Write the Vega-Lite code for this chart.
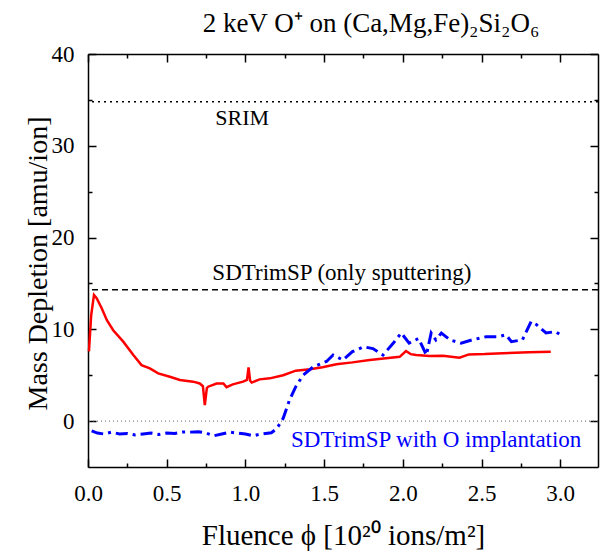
{
  "$schema": "https://vega.github.io/schema/vega-lite/v6.json",
  "width": 510,
  "height": 413,
  "autosize": {"type": "none"},
  "padding": {"left": 88, "top": 54, "right": 2, "bottom": 85},
  "config": {
    "view": {"stroke": null},
    "font": "Liberation Serif",
    "axis": {
      "domainColor": "black", "domainWidth": 1.5, "tickColor": "black", "tickWidth": 1.5, "ticks": true,
      "labelFont": "Liberation Serif", "labelFontSize": 23, "labelColor": "black",
      "titleFont": "Liberation Serif", "titleFontSize": 29, "titleFontWeight": "normal", "titleColor": "black",
      "grid": false, "labelOverlap": false, "labelFlush": false
    }
  },
  "title": {
    "text": "2 keV O⁺ on (Ca,Mg,Fe)₂Si₂O₆",
    "font": "Liberation Serif", "fontSize": 27, "fontWeight": "normal", "color": "black",
    "anchor": "middle", "dx": 28, "baseline": "alphabetic", "offset": -16
  },
  "datasets": {
    "red": [
      {"x":0.006,"y":7.6},{"x":0.02,"y":11.5},{"x":0.038,"y":13.75},{"x":0.055,"y":13.4},{"x":0.087,"y":12.3},{"x":0.12,"y":11.0},{"x":0.16,"y":9.9},{"x":0.224,"y":8.66},{"x":0.288,"y":7.2},{"x":0.34,"y":6.1},{"x":0.393,"y":5.75},{"x":0.446,"y":5.2},{"x":0.52,"y":4.84},{"x":0.584,"y":4.48},{"x":0.668,"y":4.3},{"x":0.71,"y":4.1},{"x":0.73,"y":3.8},{"x":0.742,"y":1.75},{"x":0.755,"y":3.6},{"x":0.763,"y":3.75},{"x":0.817,"y":4.1},{"x":0.86,"y":4.1},{"x":0.88,"y":3.7},{"x":0.92,"y":4.0},{"x":0.985,"y":4.3},{"x":1.01,"y":4.5},{"x":1.02,"y":5.85},{"x":1.03,"y":4.4},{"x":1.04,"y":4.2},{"x":1.09,"y":4.55},{"x":1.155,"y":4.66},{"x":1.24,"y":5.0},{"x":1.32,"y":5.5},{"x":1.41,"y":5.65},{"x":1.49,"y":5.86},{"x":1.578,"y":6.2},{"x":1.68,"y":6.4},{"x":1.79,"y":6.66},{"x":1.98,"y":7.0},{"x":2.02,"y":7.64},{"x":2.05,"y":7.3},{"x":2.085,"y":7.2},{"x":2.17,"y":7.1},{"x":2.255,"y":7.13},{"x":2.36,"y":6.9},{"x":2.42,"y":7.27},{"x":2.52,"y":7.3},{"x":2.635,"y":7.4},{"x":2.8,"y":7.5},{"x":2.94,"y":7.57}
    ],
    "blue": [
      {"x":0.023,"y":-1.06},{"x":0.06,"y":-1.3},{"x":0.1,"y":-1.4},{"x":0.15,"y":-1.2},{"x":0.2,"y":-1.4},{"x":0.25,"y":-1.35},{"x":0.3,"y":-1.5},{"x":0.35,"y":-1.4},{"x":0.4,"y":-1.3},{"x":0.45,"y":-1.45},{"x":0.5,"y":-1.3},{"x":0.55,"y":-1.35},{"x":0.6,"y":-1.2},{"x":0.65,"y":-1.2},{"x":0.7,"y":-1.15},{"x":0.75,"y":-1.3},{"x":0.8,"y":-1.6},{"x":0.85,"y":-1.4},{"x":0.9,"y":-1.2},{"x":0.95,"y":-1.3},{"x":1.0,"y":-1.4},{"x":1.05,"y":-1.6},{"x":1.1,"y":-1.4},{"x":1.165,"y":-1.27},{"x":1.2,"y":-0.8},{"x":1.24,"y":0.3},{"x":1.28,"y":2.3},{"x":1.32,"y":3.75},{"x":1.366,"y":5.0},{"x":1.43,"y":5.9},{"x":1.515,"y":6.5},{"x":1.557,"y":7.2},{"x":1.62,"y":6.66},{"x":1.68,"y":7.57},{"x":1.75,"y":8.1},{"x":1.81,"y":7.9},{"x":1.874,"y":7.2},{"x":1.94,"y":8.5},{"x":1.99,"y":9.6},{"x":2.04,"y":8.5},{"x":2.1,"y":9.0},{"x":2.15,"y":7.2},{"x":2.18,"y":9.6},{"x":2.21,"y":8.85},{"x":2.245,"y":9.6},{"x":2.3,"y":8.85},{"x":2.37,"y":8.5},{"x":2.44,"y":8.85},{"x":2.53,"y":9.2},{"x":2.61,"y":9.2},{"x":2.655,"y":9.4},{"x":2.69,"y":8.66},{"x":2.76,"y":8.85},{"x":2.815,"y":10.85},{"x":2.85,"y":10.5},{"x":2.91,"y":9.6},{"x":2.97,"y":9.75},{"x":3.02,"y":9.2}
    ],
    "refs": [
      {"name":"SRIM","y":34.8},
      {"name":"SDTrimSP","y":14.3},
      {"name":"zero","y":0}
    ],
    "labels": [
      {"text":"SRIM","x":0.98,"y":32.3,"col":"black","pos":"center"},
      {"text":"SDTrimSP (only sputtering)","x":0.79,"y":15.4,"col":"black","pos":"left"},
      {"text":"SDTrimSP with O implantation","x":1.29,"y":-2.84,"col":"#0000ff","pos":"left"}
    ]
  },
  "layer": [
    {
      "data": {"name": "red"},
      "mark": {"type": "line", "color": "#ff0000", "strokeWidth": 2.5},
      "encoding": {
        "x": {
          "field": "x", "type": "quantitative",
          "scale": {"domain": [0, 3.24], "nice": false, "zero": false},
          "axis": {
            "orient": "bottom",
            "title": "Fluence ϕ [10²⁰ ions/m²]",
            "values": [0,0.5,1,1.5,2,2.5,3],
            "tickSize": -8,
            "format": ".1f",
            "labelBaseline": "alphabetic", "labelPadding": 41,
            "titleFontSize": 29,
            "titleBaseline": "alphabetic", "titleY": 77, "titleX": 255
          }
        },
        "y": {
          "field": "y", "type": "quantitative",
          "scale": {"domain": [-5, 40], "nice": false, "zero": false},
          "axis": {
            "orient": "left",
            "title": "Mass Depletion [amu/ion]",
            "values": [0,10,20,30,40],
            "tickSize": -8,
            "labelPadding": 22,
            "titleFontSize": 28,
            "titleBaseline": "alphabetic", "titleX": -42, "titleY": 209
          }
        }
      }
    },
    {
      "data": {"name": "blue"},
      "mark": {"type": "line", "color": "#0000ff", "strokeWidth": 3, "strokeDash": [12, 5, 3, 5]},
      "encoding": {
        "x": {
          "field": "x", "type": "quantitative",
          "axis": {"orient": "top", "title": null, "labels": false, "values": [0,0.5,1,1.5,2,2.5,3], "tickSize": -8}
        },
        "y": {
          "field": "y", "type": "quantitative",
          "axis": {"orient": "right", "title": null, "labels": false, "values": [0,10,20,30,40], "tickSize": -8}
        }
      }
    },
    {
      "data": {"name": "refs"},
      "transform": [{"filter": "datum.name==='SRIM'"}],
      "mark": {"type": "rule", "color": "black", "strokeWidth": 1.5, "strokeDash": [2, 4]},
      "encoding": {"y": {"field": "y", "type": "quantitative", "axis": null}}
    },
    {
      "data": {"name": "refs"},
      "transform": [{"filter": "datum.name==='SDTrimSP'"}],
      "mark": {"type": "rule", "color": "black", "strokeWidth": 1.5, "strokeDash": [6, 4]},
      "encoding": {"y": {"field": "y", "type": "quantitative", "axis": null}}
    },
    {
      "data": {"name": "refs"},
      "transform": [{"filter": "datum.name==='zero'"}],
      "mark": {"type": "rule", "color": "#666666", "strokeWidth": 1, "strokeDash": [1, 3]},
      "encoding": {"y": {"field": "y", "type": "quantitative", "axis": null}}
    },
    {
      "data": {"name": "labels"},
      "transform": [{"filter": "datum.pos==='center'"}],
      "mark": {"type": "text", "font": "Liberation Serif", "fontSize": 22, "baseline": "alphabetic", "align": "center"},
      "encoding": {
        "x": {
          "field": "x", "type": "quantitative",
          "axis": {"orient": "bottom", "title": null, "labels": false, "domain": false, "values": [0.25,0.75,1.25,1.75,2.25,2.75], "tickSize": -4}
        },
        "y": {
          "field": "y", "type": "quantitative",
          "axis": {"orient": "left", "title": null, "labels": false, "domain": false, "values": [5,15,25,35], "tickSize": -4}
        },
        "text": {"field": "text"},
        "color": {"field": "col", "type": "nominal", "scale": null}
      }
    },
    {
      "data": {"name": "labels"},
      "transform": [{"filter": "datum.pos==='left'"}],
      "mark": {"type": "text", "font": "Liberation Serif", "fontSize": 23, "baseline": "alphabetic", "align": "left"},
      "encoding": {
        "x": {
          "field": "x", "type": "quantitative",
          "axis": {"orient": "top", "title": null, "labels": false, "domain": false, "values": [0.25,0.75,1.25,1.75,2.25,2.75], "tickSize": -4}
        },
        "y": {
          "field": "y", "type": "quantitative",
          "axis": {"orient": "right", "title": null, "labels": false, "domain": false, "values": [5,15,25,35], "tickSize": -4}
        },
        "text": {"field": "text"},
        "color": {"field": "col", "type": "nominal", "scale": null}
      }
    }
  ],
  "resolve": {"axis": {"x": "independent", "y": "independent"}}
}
